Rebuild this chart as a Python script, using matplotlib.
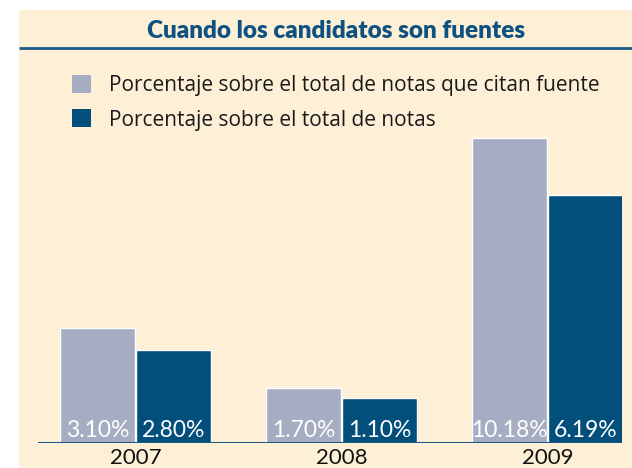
"""Cuando los candidatos son fuentes: bar chart of candidate-as-source shares."""

import matplotlib.pyplot as plt
from matplotlib.patches import Rectangle
import numpy as np

years = ["2007", "2008", "2009"]
series_names = [
    "Porcentaje sobre el total de notas que citan fuente",
    "Porcentaje sobre el total de notas",
]
# bar heights as drawn in the picture (the drawing is not to scale with the labels)
heights_fuente = [115, 55, 305]
heights_total = [93, 45, 248]
labels_fuente = ["3.10%", "1.70%", "10.18%"]
labels_total = ["2.80%", "1.10%", "6.19%"]

CREAM = "#FDF0D6"
LIGHT = "#A6ADC3"
DARK = "#024F7C"
LINE = "#1B5A88"
TITLE = "#0F5281"

W, H = 632, 468


def px(x0, y0, x1, y1):
    """pixel box (top-left origin) -> figure fraction rect"""
    return [x0 / W, 1 - y1 / H, (x1 - x0) / W, (y1 - y0) / H]


def main() -> None:
    fig = plt.figure(figsize=(W / 100, H / 100), dpi=100, facecolor="white")

    # background panel, title and rule
    bg = fig.add_axes([0, 0, 1, 1])
    bg.set_xlim(0, W)
    bg.set_ylim(H, 0)
    bg.axis("off")
    bg.add_patch(Rectangle((19, 10), W - 19, H - 10, facecolor=CREAM, edgecolor="none"))
    bg.plot([19, W], [48, 48], color=LINE, lw=2, solid_capstyle="butt")
    bg.text(336, 38, "Cuando los candidatos son fuentes", ha="center", va="baseline",
            color=TITLE, fontsize=17.5, fontweight="heavy", family="Lato")

    ax = fig.add_axes(px(38, 48, 622, 443))
    ax.patch.set_alpha(0)
    x = np.arange(len(years))
    off = 0.184
    w = 0.362
    b1 = ax.bar(x - off, heights_fuente, w, color=LIGHT, edgecolor="white", lw=1,
                label=series_names[0])
    b2 = ax.bar(x + off, heights_total, w, color=DARK, edgecolor="white", lw=1,
                label=series_names[1])
    ax.set_xlim(-0.473, 2.362)
    ax.set_ylim(0, 395)
    ax.axhline(0, color=LINE, lw=2.2)
    for spine in ax.spines.values():
        spine.set_visible(False)
    ax.set_xticks([])
    ax.set_yticks([])

    for rects, labs in ((b1, labels_fuente), (b2, labels_total)):
        for r, lab in zip(rects, labs):
            ax.text(r.get_x() + r.get_width() / 2, 6, lab, ha="center", va="baseline",
                    color="white", fontsize=16.5, family="Lato")
    for xi, yr in zip(x, years):
        ax.text(xi, -5, yr, ha="center", va="top", color="#111111", fontsize=16,
                family="Lato")

    leg = fig.legend(handles=[b1, b2], loc="upper left",
                     bbox_to_anchor=(57 / W, 1 - 60 / H), frameon=False,
                     handlelength=0.95, handleheight=0.95,
                     handletextpad=0.85, labelspacing=0.66, borderpad=0.2,
                     prop={"family": "Open Sans", "size": 15})
    for t in leg.get_texts():
        t.set_color("#1a1a1a")
    for hnd in leg.legend_handles:
        hnd.set_edgecolor("none")

    fig.savefig("out.png", dpi=100, facecolor="white")


if __name__ == "__main__":
    main()
